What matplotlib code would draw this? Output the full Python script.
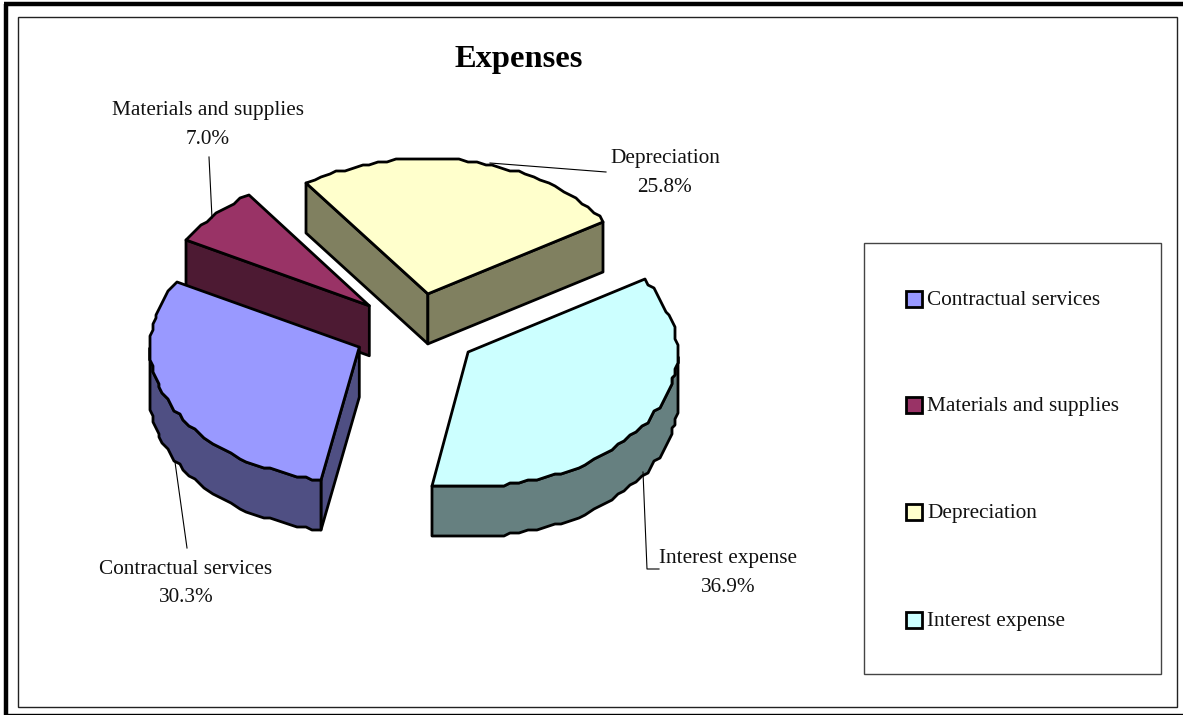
import numpy as np
import matplotlib
matplotlib.use("Agg")
import matplotlib.pyplot as plt
from matplotlib.patches import Polygon, Rectangle

categories = ["Contractual services", "Materials and supplies", "Depreciation", "Interest expense"]
values = [30.3, 7.0, 25.8, 36.9]
colors = ["#9999FF", "#993366", "#FFFFCC", "#CCFFFF"]
side_colors = ["#4F4F83", "#4D1A33", "#808060", "#668080"]
title = "Expenses"

# pie geometry, in pixels of the picture
cx, cy = 416, 331
rx, ry = 209, 135
depth = 50
explode_x, explode_y = 0.30, 0.28
start = -100.2  # angle of the first slice, goes clockwise
step = 3  # the original has a stepped outline

plt.rcParams["font.family"] = ["Liberation Serif", "DejaVu Serif"]

fig = plt.figure(figsize=(11.83, 7.15), dpi=100)
ax = fig.add_axes([0, 0, 1, 1])
ax.set_xlim(0, 1183)
ax.set_ylim(715, 0)
ax.axis("off")

# frame around the chart
ax.plot([6, 6], [4, 715], color="black", lw=3.2, solid_capstyle="butt")
ax.plot([4, 1183], [4, 4], color="black", lw=3.2, solid_capstyle="butt")
ax.plot([6, 1183], [714, 714], color="black", lw=1.0)
ax.add_patch(Rectangle((18.5, 16.5), 1158.5, 690, fc="white", ec="#222222", lw=1.0))


def point(ang, apex, drop=0):
    a = np.radians(ang)
    x = apex[0] + rx * np.cos(a)
    y = apex[1] - ry * np.sin(a)
    return round(x / step) * step, round(y / step) * step + drop


def draw_slice(a0, a1, face, side, z):
    # a0 > a1, the slice runs clockwise from a0 to a1
    mid = np.radians((a0 + a1) / 2)
    apex = (cx + explode_x * rx * np.cos(mid), cy - explode_y * ry * np.sin(mid))
    lw = 2.0
    # only the cut faces that turn towards the viewer
    for ang, seen in ((a0, np.cos(np.radians(a0)) < 0), (a1, np.cos(np.radians(a1)) > 0)):
        if seen:
            p = point(ang, apex)
            quad = [apex, p, (p[0], p[1] + depth), (apex[0], apex[1] + depth)]
            ax.add_patch(Polygon(quad, closed=True, fc=side, ec="black", lw=lw, joinstyle="round", zorder=z))
    n = int((a0 - a1) / 2.5) + 2
    angs = np.linspace(a0, a1, n)
    front = angs[np.sin(np.radians(angs)) <= 0]
    if len(front) > 1:
        top_edge = [point(a, apex) for a in front]
        low_edge = [point(a, apex, depth) for a in front[::-1]]
        ax.add_patch(Polygon(top_edge + low_edge, closed=True, fc=side, ec="black", lw=lw,
                             joinstyle="round", zorder=z + 0.1))
    top = [apex] + [point(a, apex) for a in angs]
    ax.add_patch(Polygon(top, closed=True, fc=face, ec="black", lw=lw, joinstyle="round", zorder=z + 0.2))


# slice angles from the values, drawn back to front
edges = start - np.cumsum([0] + values) * 3.6
for i, z in zip([2, 1, 0, 3], [3, 4, 5, 6]):
    draw_slice(edges[i], edges[i + 1], colors[i], side_colors[i], z)

ax.text(519, 60, title, fontsize=23.4, fontweight="bold", ha="center", va="center", zorder=10)

# data labels and leader lines
label_pos = [(186, 583), (208, 125), (665, 173), (728, 573)]
leaders = [[(175, 462), (187, 548)], [(209, 157), (212, 218)], [(490, 163), (606, 172)], [(643, 472), (647, 569), (659, 569)]]
for name, v, pos, line in zip(categories, values, label_pos, leaders):
    ax.text(pos[0], pos[1] - 14, name, fontsize=15.3, ha="center", va="center", color="#111111", zorder=10)
    ax.text(pos[0], pos[1] + 15, f"{v:.1f}%", fontsize=15.3, ha="center", va="center", color="#111111", zorder=10)
    xs, ys = zip(*line)
    ax.plot(xs, ys, color="black", lw=0.8, zorder=9)

# legend
ax.add_patch(Rectangle((864.5, 243), 297, 431, fc="white", ec="#444444", lw=1.0, zorder=2))
legend_y = [299, 405, 512, 620]
for name, col, y in zip(categories, colors, legend_y):
    ax.add_patch(Rectangle((906.5, y - 8), 16, 16, fc=col, ec="black", lw=2.0, zorder=3))
    ax.text(927, y + 1.5, name, fontsize=15.3, ha="left", va="center", color="#111111", zorder=3)

fig.savefig("out.png", dpi=100)
